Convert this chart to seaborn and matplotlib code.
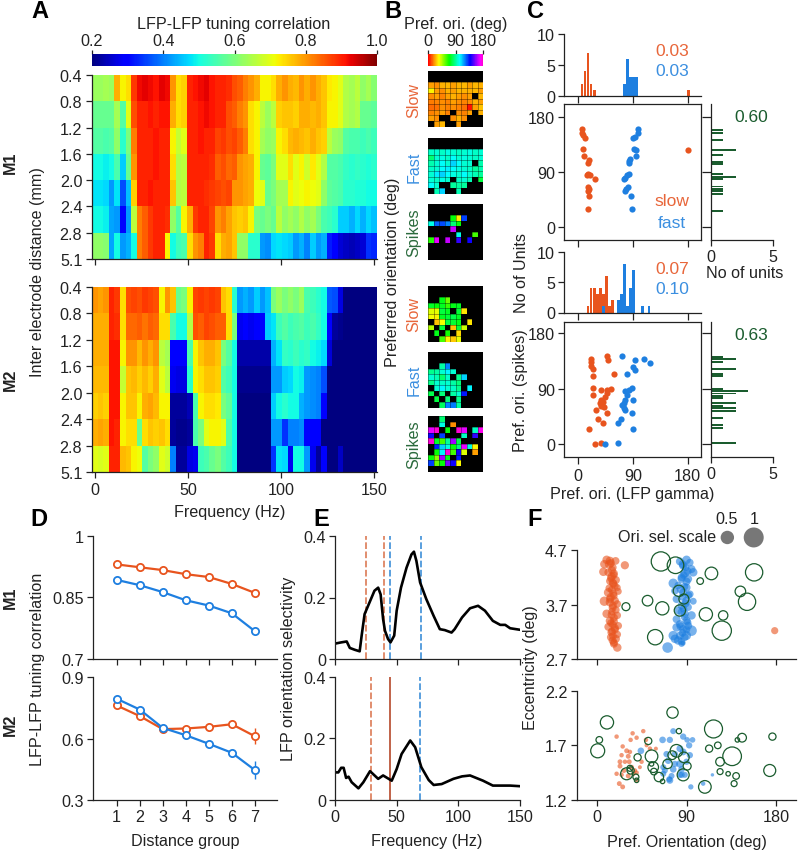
import numpy as np
import matplotlib
matplotlib.use('Agg')
import matplotlib.pyplot as plt
from matplotlib.colors import LinearSegmentedColormap
import seaborn as sns

# --- A: LFP-LFP tuning correlation, one row per distance, 3 Hz bins
dist_labels = ['0.4', '0.8', '1.2', '1.6', '2.0', '2.4', '2.8', '5.1']
freq_ticks = [0, 50, 100, 150]
corr_m1 = [
    [.63,.63,.64,.63,.78,.72,.74,.88,.92,.93,.92,.91,.93,.92,.80,.74,.75,.90,.91,.92,.93,.91,.90,.90,.89,.86,.85,.82,.80,.78,.72,.72,.74,.78,.80,.78,.77,.80,.78,.80,.78,.76,.73,.72,.70,.65,.64,.66,.62,.64,.61],
    [.58,.58,.58,.58,.64,.56,.70,.86,.90,.90,.91,.90,.91,.91,.78,.74,.75,.90,.90,.91,.92,.91,.90,.90,.86,.85,.82,.80,.74,.72,.66,.63,.66,.75,.76,.76,.75,.78,.78,.77,.78,.76,.72,.72,.70,.65,.64,.65,.58,.58,.57],
    [.56,.56,.55,.56,.62,.52,.60,.82,.90,.90,.90,.91,.90,.90,.72,.67,.70,.90,.90,.91,.90,.90,.87,.88,.86,.87,.85,.82,.74,.72,.64,.62,.63,.72,.74,.77,.78,.77,.76,.78,.76,.75,.66,.63,.62,.56,.55,.55,.54,.55,.54],
    [.50,.50,.49,.50,.55,.46,.58,.80,.90,.90,.90,.91,.90,.90,.74,.65,.66,.90,.90,.90,.90,.89,.85,.86,.84,.85,.80,.79,.78,.72,.58,.57,.60,.70,.70,.74,.70,.72,.68,.73,.70,.65,.56,.56,.55,.53,.52,.53,.52,.51,.52],
    [.48,.48,.47,.42,.48,.36,.45,.75,.90,.90,.91,.90,.90,.90,.76,.65,.66,.90,.90,.90,.89,.88,.87,.86,.87,.80,.80,.79,.78,.71,.70,.58,.60,.64,.64,.72,.70,.71,.72,.71,.70,.62,.57,.56,.55,.52,.52,.51,.51,.50,.50],
    [.50,.50,.49,.43,.42,.30,.42,.66,.82,.85,.88,.90,.90,.89,.62,.56,.72,.78,.88,.90,.90,.87,.80,.82,.79,.76,.75,.76,.72,.60,.58,.60,.58,.66,.62,.64,.62,.65,.62,.64,.60,.55,.54,.52,.46,.46,.44,.47,.44,.47,.45],
    [.62,.62,.61,.43,.50,.42,.44,.50,.82,.85,.88,.90,.90,.72,.50,.54,.55,.74,.80,.82,.90,.88,.74,.78,.79,.76,.62,.62,.52,.52,.42,.41,.47,.48,.47,.46,.42,.44,.40,.46,.42,.44,.32,.30,.26,.25,.24,.25,.26,.34,.33],
]
corr_m2 = [
    [.80,.79,.80,.90,.88,.74,.86,.87,.86,.88,.87,.86,.72,.80,.76,.58,.60,.72,.87,.88,.87,.88,.87,.76,.74,.52,.42,.44,.42,.46,.42,.45,.60,.63,.60,.62,.60,.63,.55,.54,.52,.50,.37,.36,.27,.20,.20,.20,.20,.20,.20],
    [.78,.78,.78,.90,.89,.74,.84,.84,.85,.83,.85,.84,.74,.74,.55,.50,.50,.65,.86,.85,.87,.86,.85,.85,.74,.60,.28,.30,.28,.30,.29,.46,.48,.54,.56,.54,.55,.56,.54,.55,.53,.50,.30,.22,.21,.20,.20,.20,.20,.20,.20],
    [.78,.78,.78,.91,.91,.72,.80,.80,.77,.80,.78,.80,.66,.64,.30,.30,.30,.55,.72,.76,.78,.78,.76,.60,.56,.50,.23,.23,.23,.23,.23,.23,.44,.48,.53,.52,.54,.52,.53,.50,.49,.47,.26,.20,.20,.20,.20,.20,.20,.20,.20],
    [.77,.77,.77,.91,.91,.67,.76,.77,.75,.77,.75,.78,.70,.66,.28,.27,.27,.52,.72,.74,.76,.76,.75,.56,.54,.50,.21,.21,.21,.21,.21,.21,.42,.42,.46,.47,.50,.49,.42,.41,.40,.36,.20,.20,.20,.20,.20,.20,.20,.20,.20],
    [.75,.76,.75,.91,.91,.72,.76,.76,.72,.78,.79,.77,.72,.72,.22,.22,.22,.24,.55,.72,.74,.74,.73,.60,.57,.50,.20,.20,.20,.20,.20,.20,.46,.50,.52,.50,.50,.44,.42,.41,.40,.30,.20,.20,.20,.20,.20,.20,.20,.20,.20],
    [.78,.79,.78,.91,.90,.72,.74,.74,.58,.74,.76,.75,.76,.74,.22,.21,.21,.22,.55,.60,.70,.72,.72,.70,.55,.50,.20,.20,.20,.20,.20,.20,.42,.42,.34,.40,.40,.41,.30,.29,.30,.20,.20,.20,.20,.20,.20,.20,.20,.20,.20],
    [.70,.69,.70,.90,.90,.77,.76,.72,.71,.56,.60,.62,.70,.68,.40,.22,.22,.27,.28,.54,.55,.58,.60,.56,.54,.50,.20,.20,.20,.20,.20,.20,.34,.48,.47,.28,.50,.50,.42,.28,.22,.30,.20,.20,.25,.20,.20,.20,.20,.20,.20],
]

# --- B: preferred orientation maps (deg), 10 x 10 electrodes, N = no unit
N = np.nan
map_slow_m1 = [
    [N,N,N,N,N,N,N,N,N,N], [N,N,N,N,N,N,N,N,N,N],
    [22,20,24,26,22,24,26,22,26,24], [34,22,20,24,22,26,24,24,26,22],
    [20,22,18,22,24,22,20,22,N,26], [17,18,20,18,22,20,18,20,24,22],
    [15,16,20,18,20,18,16,3,22,27], [18,20,22,18,N,20,18,22,N,24],
    [22,20,N,N,20,24,20,N,N,N], [N,22,26,N,N,22,N,N,N,N],
]
map_fast_m1 = [
    [N,N,N,N,N,N,N,N,N,N], [N,N,N,N,N,N,N,N,N,N],
    [96,98,96,100,98,96,98,100,96,98], [85,98,100,96,104,98,100,98,96,98],
    [93,98,104,98,110,104,98,98,N,93], [96,98,104,106,104,100,98,96,90,93],
    [98,106,110,104,100,98,104,98,94,90], [98,96,100,98,N,96,98,94,N,78],
    [104,98,N,N,90,92,90,N,N,N], [N,94,110,N,N,94,N,N,N,N],
]
map_spk_m1 = [
    [N,N,N,N,N,N,N,N,N,N], [N,N,N,N,N,N,N,N,N,N],
    [N,N,N,N,70,33,130,N,N,N], [100,125,128,120,85,70,N,N,N,N],
    [N,N,N,N,165,N,N,N,N,N], [N,N,N,N,N,100,N,N,60,N],
    [65,170,N,165,N,145,N,140,N,N], [N,N,N,N,N,N,N,N,N,N],
    [N,N,N,N,N,N,N,N,N,N], [N,N,N,N,N,N,N,N,N,N],
]
map_slow_m2 = [
    [N,N,N,N,N,N,N,N,N,N], [N,N,N,N,N,N,N,N,N,N],
    [N,N,72,55,N,N,N,N,N,N], [75,70,74,62,72,74,N,N,N,N],
    [40,38,78,74,N,76,32,N,N,N], [36,34,74,76,80,74,N,N,N,N],
    [N,27,36,78,76,72,N,32,N,N], [45,N,76,N,27,76,42,N,N,N],
    [N,72,N,68,N,30,N,N,N,N], [N,N,60,34,28,38,N,N,N,N],
]
map_fast_m2 = [
    [N,N,N,N,N,N,N,N,N,N], [N,N,N,N,N,N,N,N,N,N],
    [N,N,92,120,N,N,N,N,N,N], [88,92,98,105,98,N,N,N,N,N],
    [98,94,84,96,N,88,110,N,N,N], [88,98,96,98,92,86,N,N,N,N],
    [N,98,105,98,96,88,N,105,N,N], [80,N,86,N,92,98,135,N,N,N],
    [N,78,N,86,N,88,N,N,N,N], [N,N,82,120,122,92,N,N,N,N],
]
map_spk_m2 = [
    [N,N,85,N,N,N,N,N,N,N], [N,N,100,N,20,N,N,N,N,N],
    [170,178,N,70,N,178,170,N,95,175], [140,N,130,N,N,N,95,N,145,N],
    [178,75,60,90,160,80,N,N,N,N], [N,135,110,100,70,85,170,100,35,N],
    [N,70,105,178,60,140,40,N,22,N], [70,50,160,72,N,135,N,N,N,N],
    [130,55,70,155,140,35,N,N,N,N], [N,N,N,N,N,N,N,N,N,N],
]

# --- C: preferred orientation LFP gamma vs spikes, M1 then M2
ori_ticks = [0, 90, 180]
c1_slow_x = [6,6,8,11,9,10,18,16,14,17,20,28,17,18,17,18,17,180]
c1_slow_y = [159,153,150,145,127,115,110,105,85,86,84,79,66,62,58,51,29,126]
c1_fast_x = [98,98,93,91,92,95,95,86,83,84,83,81,78,75,82,79,77,87,89]
c1_fast_y = [159,153,146,145,127,126,115,111,105,108,87,84,80,78,65,62,59,51,29]
c1_top_slow_ori = [6,11,16,21,26,179]
c1_top_slow_n = [2,4,7,2,1,1]
c1_top_fast_ori = [78,82,87,92,97]
c1_top_fast_n = [2,6,3,3,3]
c1_side_ori = [157,153,143,127,117,107,103,86,82,78,66,62,58,53,27]
c1_side_n = [1,1,1,2,1,1,1,1,2,1,1,1,1,1,1]

c2_slow_x = [21,22,21,25,25,24,37,25,48,50,59,55,48,47,45,37,41,36,38,43,30,47,33,41,18,38,28]
c2_slow_y = [139,134,127,122,110,91,87,80,143,137,113,89,87,82,77,71,68,66,62,60,55,51,40,34,24,2,-1]
c2_fast_x = [73,108,118,93,90,94,81,89,84,78,81,78,75,73,75,77,90,89,70,66,90,65,44]
c2_fast_y = [143,139,132,137,125,121,113,91,87,86,79,71,67,63,58,55,71,51,40,34,24,1,-1]
c2_top_slow_ori = [16,21,26,31,36,41,46,51,56]
c2_top_slow_n = [1,4,4,3,4,3,6,1,2]
c2_top_fast_ori = [41,66,71,77,82,87,92,107,118]
c2_top_fast_n = [1,2,3,8,1,4,7,1,1]
c2_side_ori = [142,137,133,123,113,108,91,87,82,77,73,67,63,57,52,42,31,26,1]
c2_side_n = [1,2,1,2,1,1,1,3,2,1,1,2,1,2,2,1,1,1,2]

# --- D: correlation by distance group
dist_group = [1, 2, 3, 4, 5, 6, 7]
d1_slow = [.931,.924,.917,.907,.900,.883,.861]
d1_fast = [.893,.880,.863,.843,.830,.811,.767]
d2_slow = [.762,.710,.646,.649,.657,.670,.611]
d2_fast = [.795,.742,.652,.616,.574,.530,.445]
d2_slow_err = [.008,.008,.008,.008,.008,.010,.040]
d2_fast_err = [.008,.008,.008,.008,.008,.012,.045]

# --- E: LFP orientation selectivity against frequency
e1_freq = [0,5,9.5,12,16,20,21.6,24,28,32,35,37,39,40.5,43,45,48,50,53.5,58,62,64,66,69,74,80,85,89,94.5,97,103,109.5,116,121.6,128,134,138,142,150]
e1_sel = [.05,.054,.057,.036,.03,.025,.076,.146,.184,.222,.232,.21,.13,.092,.065,.054,.076,.157,.232,.297,.34,.349,.319,.249,.195,.14,.097,.094,.086,.097,.135,.165,.173,.157,.124,.111,.111,.10,.095]
e2_freq = [0,2.7,5,7,9,11,13.5,19,23,28.4,35,39,46,50,54,61,65,70,76,80,86.5,96,103,109.5,120,128,136,142,150]
e2_sel = [.089,.089,.104,.104,.071,.075,.057,.037,.057,.093,.068,.079,.062,.10,.149,.193,.171,.106,.064,.048,.051,.068,.076,.079,.062,.046,.046,.046,.044]
e1_slow_band = [24.9, 39.7]
e1_fast_band = [44.9, 69.7]
e2_slow_band = [29.2, 44.3]
e2_fast_band = [69.2]

# --- F: eccentricity vs preferred orientation, sizes = selectivity
f1_slow_x = [9.7,13,18.7,7.4,12.4,28,6.4,11.4,17,14.7,13,19,16.4,12.4,20.4,11.4,16.4,21.4,13.7,7.4,13,18,20.4,15.7,9.7,19,14.7,20.4,13,17,11.4,18,21.4,14.7,20.4,15.7,19,20.4,17,178.6,
             14,16,15,17,14,16,18,15,17,13,16,15,17,14,16,18,15,16,14,17]
f1_slow_y = [4.52,4.50,4.50,4.44,4.44,4.42,4.30,4.29,4.27,4.21,4.13,4.15,4.08,4.0,4.01,3.92,3.90,3.94,3.83,3.76,3.74,3.77,3.71,3.64,3.53,3.60,3.51,3.50,3.40,3.39,3.29,3.27,3.31,3.19,3.15,3.04,3.07,2.91,2.98,3.22,
             4.46,4.38,4.33,4.24,4.18,4.10,4.04,3.97,3.86,3.80,3.68,3.57,3.46,3.36,3.33,3.24,3.21,3.12,3.10,3.0]
f1_slow_sel = [.18,.18,.15,.18,.2,.17,.18,.16,.16,.18,.15,.16,.16,.15,.12,.2,.16,.12,.18,.22,.18,.16,.14,.16,.18,.14,.16,.14,.18,.16,.16,.16,.14,.18,.14,.16,.16,.18,.16,.13,
               .16,.14,.16,.14,.15,.16,.14,.16,.14,.15,.16,.14,.16,.14,.15,.16,.14,.15,.16,.14]
f1_fast_x = [90,83.3,93.3,86.6,95,96.7,88.3,76.6,85,91.6,81.6,90,78.3,86.6,93.3,96.7,80,90,85,91.6,81.6,88.3,95,80,90,83.3,91.6,80,86.6,95,76.6,83.3,90,81.6,86.6,71,78.3,85,
             86,89,91,87,85,90,88,84,92,86,89,87,85,88,91,84,90,86,88,85]
f1_fast_y = [4.52,4.49,4.47,4.41,4.35,4.29,4.27,4.09,4.17,4.17,4.05,4.01,3.95,3.92,3.89,3.76,3.80,3.77,3.68,3.65,3.59,3.53,3.50,3.43,3.40,3.34,3.31,3.28,3.25,3.22,3.13,3.13,3.13,3.04,2.99,2.91,3.07,2.98,
             4.44,4.38,4.31,4.24,4.20,4.12,4.03,3.98,3.87,3.84,3.72,3.62,3.56,3.47,3.37,3.30,3.24,3.18,3.10,3.02]
f1_fast_sel = [.18,.16,.14,.16,.16,.18,.18,.22,.16,.16,.14,.16,.14,.16,.14,.12,.16,.18,.16,.14,.16,.16,.18,.16,.16,.16,.16,.18,.16,.28,.22,.16,.2,.18,.06,.28,.18,.1,
               .16,.14,.16,.14,.15,.16,.14,.16,.14,.15,.16,.14,.16,.14,.15,.16,.14,.15,.16,.14]
f1_spk_x = [64.2,78.9,115,103.7,157.9,144.1,150.8,29.1,50.8,65.6,82.3,87.3,83.3,109.4,126.8,125.4,58.5]
f1_spk_y = [4.49,4.42,4.27,4.13,4.29,3.94,3.75,3.66,3.77,3.63,3.95,3.80,3.59,3.52,3.50,3.22,3.10]
f1_spk_sel = [.93,.69,.40,.11,.75,.28,.75,.16,.28,.44,.32,.25,.32,.44,.22,.93,.59]

f2_slow_x = [19.7,35.8,46.5,49.2,39.8,33.8,25.8,29.8,33.1,24.7,31.4,23.1,28.1,32.4,23.1,34.8,43.1,27.1,38.1,19.7,24.7,31.4,36.5,39.8,22.4,25.8,39.8,49.8,59.2,53.2,44.8]
f2_slow_y = [1.78,1.81,1.83,1.75,1.77,1.75,1.69,1.65,1.64,1.61,1.60,1.55,1.55,1.55,1.51,1.50,1.50,1.47,1.47,1.44,1.43,1.42,1.44,1.45,1.35,1.32,1.38,1.70,1.67,1.67,1.55]
f2_slow_sel = [.05,.05,.05,.05,.05,.05,.05,.06,.05,.05,.06,.06,.05,.06,.06,.06,.04,.06,.05,.05,.05,.06,.05,.05,.06,.06,.05,.04,.04,.05,.05]
f2_fast_x = [76.6,86.6,65.9,73.2,90.6,96,92.6,83.3,44.1,69.9,78.3,86.6,93.3,90,71.6,78.3,83.3,68.2,76.6,85,66.6,74.9,83.3,88.3,73.2,85,116,106.7,94.3,72.6,66.6]
f2_fast_y = [1.83,1.78,1.75,1.75,1.75,1.75,1.70,1.67,1.65,1.62,1.62,1.64,1.61,1.55,1.56,1.53,1.53,1.47,1.48,1.48,1.44,1.42,1.43,1.43,1.38,1.43,1.43,1.35,1.32,1.39,1.50]
f2_fast_sel = [.09,.1,.11,.1,.08,.08,.1,.12,.11,.1,.1,.12,.1,.1,.11,.1,.14,.09,.11,.11,.09,.09,.09,.09,.12,.1,.03,.05,.07,.09,.09]
f2_spk_x = [10,75.9,2.3,.7,51.5,82.3,117.1,145.8,141.1,176.3,112.7,121.4,135.8,123.7,173.6,123.7,131.8,139.8,137.8,108.4,40.8,54.8,79.9,75.6,70.9,87.3,90.6,86.6,56.5,54.8,57.2,62.2,65.9,29.8,33.8,33.1,39.1,39.8]
f2_spk_y = [1.91,2.00,1.75,1.65,1.74,1.83,1.85,1.77,1.75,1.78,1.67,1.70,1.60,1.55,1.47,1.46,1.44,1.42,1.35,1.32,1.59,1.60,1.65,1.61,1.53,1.59,1.51,1.43,1.50,1.53,1.46,1.41,1.37,1.44,1.47,1.49,1.41,1.38]
f2_spk_sel = [.44,.32,.11,.49,.13,.07,.81,.19,.05,.13,.13,.11,.87,.19,.36,.09,.05,.11,.09,.40,.13,.40,.40,.19,.22,.28,.16,.36,.28,.05,.11,.22,.05,.36,.13,.09,.09,.05]

W, H = 798, 853
ORANGE = '#e8541e'
BLUE = '#1e7fe0'
GREEN = '#1a5c2e'
INK = '#222222'
FS = 11.6

sns.set_style('ticks')
plt.rcParams['font.family'] = ['Liberation Sans', 'DejaVu Sans']
plt.rcParams.update({'axes.edgecolor': INK, 'axes.linewidth': .9, 'xtick.color': INK, 'ytick.color': INK,
                     'xtick.major.width': .9, 'ytick.major.width': .9, 'xtick.major.size': 4, 'ytick.major.size': 4,
                     'xtick.labelsize': FS, 'ytick.labelsize': FS, 'xtick.major.pad': 2.5, 'ytick.major.pad': 2.5})

fig = plt.figure(figsize=(W / 100, H / 100), dpi=100)


def axpx(x0, y0, x1, y1):
    return fig.add_axes([x0 / W, 1 - y1 / H, (x1 - x0) / W, (y1 - y0) / H])


def put(x, y, s, size=FS, color=INK, ha='center', **kw):
    fig.text(x / W, 1 - y / H, s, fontsize=size, color=color, ha=ha, va='center', **kw)


def hide(ax, *names):
    for n in names:
        ax.spines[n].set_visible(False)


# A
jet_bar = axpx(92, 55, 377, 67)
for i, (rows, box) in enumerate([(corr_m1, (92, 76, 377, 260)), (corr_m2, (92, 288, 377, 473))]):
    ax = axpx(*box)
    sns.heatmap(rows, ax=ax, cmap='jet', vmin=.2, vmax=1, xticklabels=False, yticklabels=False,
                cbar=i == 0, cbar_ax=jet_bar if i == 0 else None, cbar_kws={'orientation': 'horizontal'})
    for s in ['left', 'bottom']:
        ax.spines[s].set_visible(True)
    ax.set_yticks(range(8))
    ax.set_yticklabels(dist_labels, rotation=0)
    ax.set_xticks([(f + 1.5) / 3 for f in freq_ticks])
    ax.set_xticklabels(freq_ticks if i == 1 else [])
    ax.tick_params(length=4.5)
jet_bar.xaxis.set_ticks_position('top')
jet_bar.set_xticks([.2, .4, .6, .8, 1])
jet_bar.set_xticklabels(['0.2', '0.4', '0.6', '0.8', '1.0'], fontsize=FS)
jet_bar.tick_params(length=3, pad=1.5)
put(234, 25, 'LFP-LFP tuning correlation')
put(38, 272, 'Inter electrode distance (mm)', rotation=90)
put(230, 513, 'Frequency (Hz)')
put(10, 163, 'M1', weight='bold', rotation=90)
put(10, 380, 'M2', weight='bold', rotation=90)

# B
ori_cmap = LinearSegmentedColormap.from_list('ori', plt.cm.hsv(np.linspace(0, .88, 256)))
ori_bar = axpx(428, 55, 483, 67)
maps = [(map_slow_m1, 72), (map_fast_m1, 139), (map_spk_m1, 205),
        (map_slow_m2, 287), (map_fast_m2, 353), (map_spk_m2, 417)]
for i, (grid, top) in enumerate(maps):
    ax = axpx(428, top, 483, top + 55.5)
    ax.set_facecolor('black')
    sns.heatmap(np.array(grid, dtype=float), ax=ax, cmap=ori_cmap, vmin=0, vmax=180, linewidths=0,
                xticklabels=False, yticklabels=False, cbar=i == 0, cbar_ax=ori_bar if i == 0 else None,
                cbar_kws={'orientation': 'horizontal'})
    # thin cell borders, lighter than the heatmap's own edge lines
    ax.set_xticks(range(11))
    ax.set_yticks(range(11))
    ax.set_xticklabels([])
    ax.set_yticklabels([])
    ax.grid(True, color='black', lw=.45, alpha=.55)
    ax.set_axisbelow(False)
    ax.tick_params(length=0)
ori_bar.xaxis.set_ticks_position('top')
ori_bar.set_xticks(ori_ticks)
ori_bar.set_xticklabels(ori_ticks, fontsize=FS)
ori_bar.tick_params(length=3, pad=1.5)
put(456, 24, 'Pref. ori. (deg)')
put(392, 272, 'Preferred orientation (deg)', rotation=90)
for y, s, c in [(100, 'Slow', '#e8663a'), (167, 'Fast', '#3b8fe0'), (233, 'Spikes', '#2a6a3c'),
                (315, 'Slow', '#e8663a'), (380, 'Fast', '#3b8fe0'), (445, 'Spikes', '#2a6a3c')]:
    put(414, y, s, color=c, rotation=90)


# C
def panel_c(top_box, box, side_box, ylim, data, show_labels):
    slow_x, slow_y, fast_x, fast_y, top_so, top_sn, top_fo, top_fn, side_o, side_n = data
    top = axpx(*top_box)
    sns.histplot(x=top_so, weights=top_sn, binwidth=5, binrange=(-1, 184), color=ORANGE, ax=top, shrink=.9,
                 alpha=1, linewidth=0)
    sns.histplot(x=top_fo, weights=top_fn, binwidth=5, binrange=(-1, 184), color=BLUE, ax=top, shrink=.9,
                 alpha=1, linewidth=0)
    top.set(xlim=(-23, 202), ylim=(0, 10), xticks=ori_ticks, yticks=[0, 5, 10], xlabel='', ylabel='')
    top.set_xticklabels([])
    top.tick_params(axis='x', length=5)
    hide(top, 'top', 'right')

    main = axpx(*box)
    sns.scatterplot(x=slow_x, y=slow_y, color=ORANGE, s=20, linewidth=0, ax=main)
    sns.scatterplot(x=fast_x, y=fast_y, color=BLUE, s=20, linewidth=0, ax=main)
    main.set(xlim=(-23, 202), ylim=ylim, xticks=ori_ticks, yticks=ori_ticks)
    if not show_labels:
        main.set_xticklabels([])
    main.tick_params(axis='x', length=5)

    side = axpx(*side_box)
    sns.histplot(y=side_o, weights=side_n, binwidth=4, binrange=(0, 180), color=GREEN, ax=side, shrink=.8,
                 alpha=1, linewidth=0)
    side.set(ylim=ylim, xlim=(0, 5), xticks=[0, 5], yticks=ori_ticks, xlabel='', ylabel='')
    side.set_yticklabels([])
    side.tick_params(axis='y', length=6.8)
    hide(side, 'top', 'right')


panel_c((564, 35, 701, 97), (564, 104.7, 701, 240.7), (711, 104.7, 773, 240.7), (-20.7, 201),
        (c1_slow_x, c1_slow_y, c1_fast_x, c1_fast_y, c1_top_slow_ori, c1_top_slow_n, c1_top_fast_ori, c1_top_fast_n,
         c1_side_ori, c1_side_n), False)
panel_c((564, 252.7, 701, 313.5), (564, 322.7, 701, 458.3), (711, 322.7, 773, 458.3), (-22, 199),
        (c2_slow_x, c2_slow_y, c2_fast_x, c2_fast_y, c2_top_slow_ori, c2_top_slow_n, c2_top_fast_ori, c2_top_fast_n,
         c2_side_ori, c2_side_n), True)
put(672, 52, '0.03', color='#e8663a', size=12.5)
put(672, 71, '0.03', color='#3b8fe0', size=12.5)
put(751, 118, '0.60', color=GREEN, size=12.5)
put(672, 202, 'slow', color='#e8663a', size=12.5)
put(672, 224, 'fast', color='#3b8fe0', size=12.5)
put(672, 270, '0.07', color='#e8663a', size=12.5)
put(672, 289, '0.10', color='#3b8fe0', size=12.5)
put(751, 336, '0.63', color=GREEN, size=12.5)
put(745, 273, 'No of units')
put(521, 273, 'No of Units', rotation=90)
put(521, 391, 'Pref. ori. (spikes)', rotation=90)
put(632, 495, 'Pref. ori. (LFP gamma)')

# D
d_sets = [((92.7, 537.3, 277, 659.5), (.7, 1), [.7, .85, 1], ['0.7', '0.85', '1'], d1_slow, d1_fast, None, None),
          ((92.7, 678.3, 277, 800.7), (.3, .9), [.3, .6, .9], ['0.3', '0.6', '0.9'], d2_slow, d2_fast, d2_slow_err, d2_fast_err)]
for i, (box, ylim, yt, ytl, slow, fast, slow_err, fast_err) in enumerate(d_sets):
    ax = axpx(*box)
    for vals, errs, c in [(slow, slow_err, ORANGE), (fast, fast_err, BLUE)]:
        if errs is not None:
            ax.errorbar(dist_group, vals, yerr=errs, fmt='none', ecolor=c, elinewidth=1)
        sns.lineplot(x=dist_group, y=vals, color=c, linewidth=1.6, marker='o', markersize=5.2, markerfacecolor='white',
                     markeredgecolor=c, markeredgewidth=1.3, errorbar=None, ax=ax)
    ax.set(xlim=(-.04, 7.96), ylim=ylim, yticks=yt, xticks=dist_group)
    ax.set_yticklabels(ytl)
    if i == 0:
        ax.set_xticklabels([])
    hide(ax, 'top', 'right')
put(10, 598, 'M1', weight='bold', rotation=90)
put(10, 725, 'M2', weight='bold', rotation=90)
put(38, 669, 'LFP-LFP tuning correlation', rotation=90)
put(185, 842, 'Distance group')

# E
e_sets = [((335, 537, 520, 660), e1_freq, e1_sel, e1_slow_band, e1_fast_band),
          ((335, 678, 520, 800.7), e2_freq, e2_sel, e2_slow_band, e2_fast_band)]
for i, (box, freq, sel, slow_band, fast_band) in enumerate(e_sets):
    ax = axpx(*box)
    for j, f in enumerate(slow_band):
        solid = i == 1 and j == 1
        ax.axvline(f, color='#b5482a' if solid else '#dc7a55', lw=1.2, ls='-' if solid else (0, (4, 1.5)))
    for f in fast_band:
        ax.axvline(f, color='#3d8fd8', lw=1.2, ls=(0, (4, 1.5)))
    sns.lineplot(x=freq, y=sel, color='black', linewidth=1.9, errorbar=None, ax=ax)
    ax.set(xlim=(0, 150), ylim=(0, .4), yticks=[0, .2, .4], xticks=freq_ticks)
    ax.set_yticklabels(['0', '0.2', '0.4'])
    if i == 0:
        ax.set_xticklabels([])
    hide(ax, 'top', 'right')
put(288, 669, 'LFP orientation selectivity', rotation=90)
put(427, 842, 'Frequency (Hz)')

# F
SIZE_ONE = 207
f_sets = [((576.7, 551, 796, 660), (2.7, 4.7), [2.7, 3.7, 4.7], f1_slow_x, f1_slow_y, f1_slow_sel, f1_fast_x, f1_fast_y,
           f1_fast_sel, f1_spk_x, f1_spk_y, f1_spk_sel),
          ((576.7, 691.7, 796, 801), (1.2, 2.2), [1.2, 1.7, 2.2], f2_slow_x, f2_slow_y, f2_slow_sel, f2_fast_x, f2_fast_y,
           f2_fast_sel, f2_spk_x, f2_spk_y, f2_spk_sel)]
for i, (box, ylim, yt, sx, sy, ss, fx, fy, fs, kx, ky, ks) in enumerate(f_sets):
    ax = axpx(*box)
    sns.scatterplot(x=sx, y=sy, size=ss, size_norm=(0, 1), sizes=(0, SIZE_ONE), color=ORANGE, alpha=.6, linewidth=0,
                    legend=False, ax=ax)
    sns.scatterplot(x=fx, y=fy, size=fs, size_norm=(0, 1), sizes=(0, SIZE_ONE), color=BLUE, alpha=.6, linewidth=0,
                    legend=False, ax=ax)
    sns.scatterplot(x=kx, y=ky, size=ks, size_norm=(0, 1), sizes=(0, SIZE_ONE), facecolors='none', edgecolor=GREEN,
                    linewidth=.9, legend=False, ax=ax)
    ax.set(xlim=(-20.4, 200), ylim=ylim, yticks=yt, xticks=ori_ticks)
    ax.set_yticklabels([f'{v:.1f}' for v in yt])
    if i == 0:
        ax.set_xticklabels([])
    hide(ax, 'top', 'right')
    if i == 0:
        ax.scatter([131, 157.5], [4.93, 4.93], s=[.45 * SIZE_ONE, SIZE_ONE], color='#777777', linewidth=0, clip_on=False)
put(716, 538, 'Ori. sel. scale', ha='right')
put(727, 519, '0.5')
put(754, 519, '1')
put(531, 668, 'Eccentricity (deg)', rotation=90)
put(687, 843, 'Pref. Orientation (deg)')

for x, y, s in [(40, 12, 'A'), (393, 12, 'B'), (535, 11, 'C'), (39, 520, 'D'), (321, 520, 'E'), (535, 520, 'F')]:
    put(x, y, s, size=17, color='black', weight='bold')

fig.savefig('out.png', dpi=100)
